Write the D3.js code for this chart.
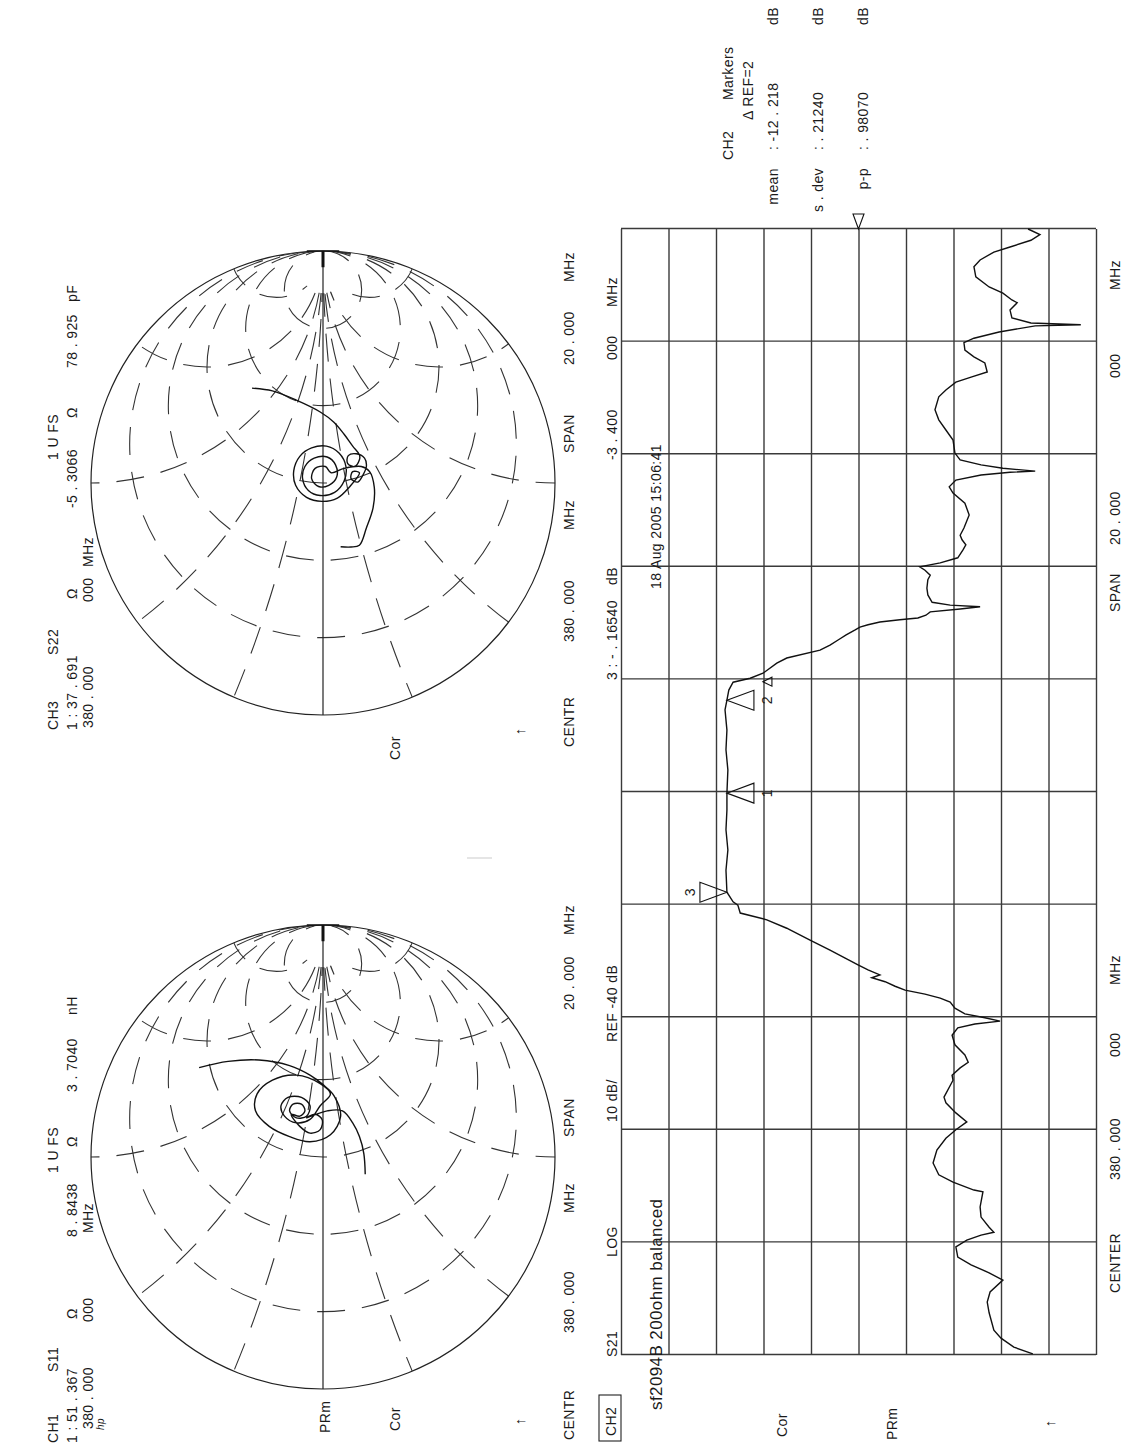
<!DOCTYPE html>
<html>
<head>
<meta charset="utf-8">
<script src="https://cdn.jsdelivr.net/npm/d3@7"></script>
<style>
  body { margin: 0; background: #fff; }
  svg text { font-family: "Liberation Sans", Arial, sans-serif; font-size: 14px; fill: #1a1a1a; letter-spacing: 0.4px; }
  .grid line { stroke: #3a3a3a; stroke-width: 1.4; }
  .trace { fill: none; stroke: #111; stroke-width: 1.4; }
  .smith-outline { fill: none; stroke: #222; stroke-width: 1.2; }
  .smith-dash { fill: none; stroke: #333; stroke-width: 1.1; stroke-dasharray: 28 17; }
  .marker { fill: none; stroke: #111; stroke-width: 1.1; }
</style>
</head>
<body>
<svg id="chart"></svg>
<script>
// ---------- data ----------

// CH2: S21 log magnitude, centre 380 MHz, span 20 MHz
const s21Freq = [370.02, 370.14, 370.30, 370.44, 370.75, 370.94, 371.12, 371.33, 371.46, 371.60,
  371.74, 371.92, 372.04, 372.13, 372.18, 372.27, 372.45, 372.63, 372.90, 372.93,
  373.07, 373.20, 373.41, 373.64, 373.85, 374.00, 374.14, 374.30, 374.48, 374.58,
  374.88, 374.97, 375.10, 375.20, 375.33, 375.51, 375.68, 375.81, 375.88, 375.93,
  375.99, 376.06, 376.16, 376.27, 376.34, 376.41, 376.48, 376.55, 376.63, 376.70,
  376.75, 376.84, 376.93, 377.05, 377.19, 377.37, 377.55, 377.58, 377.73, 377.85,
  377.99, 378.05, 378.22, 378.61, 378.97, 379.33, 379.68, 379.98, 380.39, 380.75,
  381.10, 381.46, 381.63, 381.81, 381.95, 382.02, 382.11, 382.29, 382.38, 382.52,
  382.61, 382.70, 382.79, 382.88, 382.93, 382.97, 383.02, 383.06, 383.09, 383.14,
  383.20, 383.25, 383.29, 383.32, 383.37, 383.50, 383.62, 383.77, 383.85, 383.94,
  384.00, 384.07, 384.16, 384.30, 384.39, 384.48, 384.56, 384.69, 384.92, 385.13,
  385.31, 385.42, 385.54, 385.63, 385.68, 385.70, 385.75, 385.81, 385.90, 386.02,
  386.25, 386.43, 386.61, 386.79, 387.02, 387.14, 387.28, 387.37, 387.46, 387.62,
  387.73, 387.85, 387.98, 388.06, 388.17, 388.28, 388.30, 388.33, 388.42, 388.56,
  388.69, 388.74, 388.86, 388.97, 389.15, 389.33, 389.45, 389.59, 389.68, 389.80,
  389.90, 390.00];
const s21Db = [-76.7, -72.7, -70.0, -68.5, -67.5, -67.1, -67.7, -70.4, -67.5, -63.7,
  -60.9, -60.5, -62.8, -65.8, -68.5, -67.5, -65.8, -65.6, -66.2, -64.3,
  -59.9, -56.9, -55.7, -56.5, -58.4, -60.5, -62.8, -60.5, -58.4, -58.0,
  -59.9, -59.7, -61.4, -63.1, -62.4, -60.3, -59.7, -60.9, -64.5, -69.8,
  -66.6, -62.4, -60.3, -59.3, -57.2, -54.0, -49.8, -47.7, -45.6, -42.8,
  -44.5, -42.0, -39.9, -37.2, -34.0, -29.8, -25.6, -24.9, -20.7, -15.1,
  -14.6, -13.6, -12.3, -12.1, -12.5, -12.1, -12.3, -12.3, -12.5, -12.1,
  -12.3, -11.9, -12.3, -12.7, -13.6, -17.2, -19.9, -22.8, -24.9, -31.9,
  -34.0, -35.7, -37.4, -39.3, -40.3, -42.0, -44.5, -48.7, -52.5, -54.2,
  -55.1, -61.4, -65.6, -59.3, -55.5, -54.6, -54.4, -54.6, -55.1, -54.0,
  -52.9, -57.2, -60.9, -62.0, -62.6, -61.8, -61.4, -62.2, -63.3, -62.4,
  -59.9, -59.1, -60.5, -65.8, -71.9, -77.2, -70.4, -65.8, -61.4, -60.3,
  -59.9, -58.4, -56.9, -56.1, -56.9, -58.4, -60.5, -63.7, -67.1, -66.6,
  -64.3, -62.4, -62.2, -64.3, -69.6, -77.2, -86.8, -76.3, -72.3, -71.9,
  -73.4, -72.3, -70.4, -67.5, -64.7, -64.3, -65.6, -68.5, -71.9, -76.3,
  -78.2, -75.7];

const markerIds = ["1", "2", "3"];
const markerFreq = [379.98, 381.63, 378.22];
const markerDb = [-12.3, -12.3, -12.3];

const freqTicks = [370, 372, 374, 376, 378, 380, 382, 384, 386, 388, 390];
const dbTicks = [-90, -80, -70, -60, -50, -40, -30, -20, -10, 0, 10];
const refLevel = -40;

// CH1: S11 reflection coefficient (real, imaginary)
const s11Re = [0.385, 0.412, 0.418, 0.394, 0.353, 0.312, 0.265, 0.176, 0.096, 0.066,
  0.088, 0.132, 0.199, 0.272, 0.331, 0.353, 0.316, 0.272, 0.221, 0.162,
  0.147, 0.176, 0.221, 0.257, 0.257, 0.221, 0.176, 0.169, 0.199, 0.228,
  0.228, 0.199, 0.176, 0.184, 0.132, 0.103, 0.118, 0.162, 0.184, 0.169,
  0.199, 0.199, 0.147, 0.088, 0.015, -0.074];
const s11Im = [0.534, 0.409, 0.276, 0.144, 0.056, 0.0, -0.047, -0.076, -0.032, 0.056,
  0.144, 0.232, 0.291, 0.284, 0.218, 0.115, 0.012, -0.032, 0.012, 0.056,
  0.115, 0.166, 0.181, 0.151, 0.093, 0.056, 0.071, 0.115, 0.144, 0.129,
  0.093, 0.078, 0.1, 0.137, 0.1, 0.056, 0.012, 0.004, 0.034, 0.071,
  -0.018, -0.084, -0.128, -0.157, -0.176, -0.182];

// CH3: S22 reflection coefficient (real, imaginary)
const s22Re = [0.409, 0.397, 0.357, 0.306, 0.262, 0.21, 0.159, 0.122, 0.1, 0.071,
  0.085, 0.118, 0.126, 0.107, 0.071, 0.034, 0.004, 0.019, 0.049, 0.044,
  -0.018, -0.065, -0.079, -0.062, -0.01, 0.053, 0.115, 0.151, 0.159, 0.129,
  0.071, 0.009, -0.04, -0.054, -0.032, 0.019, 0.071, 0.107, 0.112, 0.078,
  0.026, -0.01, -0.015, 0.019, 0.063, 0.071, 0.044, 0.063, 0.071, 0.049,
  -0.018, -0.106, -0.194, -0.268, -0.276, -0.275];
const s22Im = [0.306, 0.218, 0.115, 0.012, -0.047, -0.091, -0.128, -0.157, -0.157, -0.135,
  -0.106, -0.109, -0.143, -0.179, -0.187, -0.172, -0.15, -0.121, -0.128, -0.157,
  -0.113, -0.062, 0.004, 0.071, 0.118, 0.126, 0.1, 0.049, -0.015, -0.069,
  -0.099, -0.091, -0.05, 0.012, 0.063, 0.088, 0.078, 0.038, -0.018, -0.054,
  -0.059, -0.025, 0.019, 0.049, 0.034, -0.01, -0.035, -0.091, -0.165, -0.201,
  -0.221, -0.216, -0.187, -0.157, -0.121, -0.076];

// Smith chart graticule: constant resistance circles and reactance arcs
const smithR = [0.2, 0.5, 1, 2, 5];
const smithX = [0.2, 0.5, 1, 2, 5, -0.2, -0.5, -1, -2, -5];
const smithStop = 10;   // graticule is left blank inside this resistance circle

// ---------- page ----------
const W = 1139, H = 1447;
const svg = d3.select('#chart').attr('width', W).attr('height', H);

// the whole printout is turned a quarter turn: draw on a landscape page
// (1447 x 1139) and rotate it so the text reads bottom to top
const page = svg.append('g')
    .attr('transform', `translate(0,${H}) rotate(-90)`);

function addLabels(list) {
  page.append('g').selectAll('text')
    .data(list)
    .join('text')
      .attr('x', d => d[1])
      .attr('y', d => d[2])
      .attr('text-anchor', d => d[3] || 'start')
      .style('font-size', d => d[4] || null)
      .text(d => d[0]);
}

// ---------- CH2 rectangular graticule ----------
const grid = { left: 92, right: 1218, top: 621, bottom: 1096 };

const xScale = d3.scaleLinear().domain([370, 390]).range([grid.left, grid.right]);
const yScale = d3.scaleLinear().domain([-90, 10]).range([grid.bottom, grid.top]);

const xAxis = d3.axisBottom(xScale)
    .tickValues(freqTicks)
    .tickSize(-(grid.bottom - grid.top))
    .tickFormat('');
const yAxis = d3.axisLeft(yScale)
    .tickValues(dbTicks)
    .tickSize(-(grid.right - grid.left))
    .tickFormat('');

page.append('g')
    .attr('class', 'grid')
    .attr('transform', `translate(0,${grid.bottom})`)
    .call(xAxis)
    .call(g => g.select('.domain').remove());
page.append('g')
    .attr('class', 'grid')
    .attr('transform', `translate(${grid.left},0)`)
    .call(yAxis)
    .call(g => g.select('.domain').remove());

const s21 = s21Freq.map((f, i) => ({ f: f, db: s21Db[i] }));
page.append('path')
    .datum(s21)
    .attr('class', 'trace')
    .attr('d', d3.line().x(d => xScale(d.f)).y(d => yScale(d.db)));

// reference position marker at the right edge
const ry = yScale(refLevel);
page.append('path')
    .attr('class', 'marker')
    .attr('d', `M${grid.right},${ry} L${grid.right + 15},${ry - 5.5} L${grid.right + 15},${ry + 5.5} Z`);

// trace markers: 1 and 2 hang below the trace, 3 sits above it
const markers = markerIds.map((id, i) => ({ id: id, f: markerFreq[i], db: markerDb[i] }));
markers.forEach(m => {
  const mx = xScale(m.f), my = yScale(m.db);
  const dir = m.id === '3' ? -1 : 1;
  page.append('path')
      .attr('class', 'marker')
      .attr('d', `M${mx},${my} L${mx - 10},${my + dir * 27} L${mx + 10},${my + dir * 27} Z`);
  page.append('text')
      .attr('x', mx - 4)
      .attr('y', m.id === '3' ? my - 32 : my + 45)
      .text(m.id);
});
// delta reference sign next to marker 2
{
  const mx = xScale(markerFreq[1]) + 14, my = yScale(markerDb[1]) + 45;
  page.append('path')
      .attr('class', 'marker')
      .attr('d', `M${mx},${my} L${mx + 9},${my} L${mx + 4.5},${my - 9} Z`);
}

// ---------- Smith charts ----------
const R = 232;
const smithCy = 323;

function drawSmith(cx, re, im, id) {
  const gx = d3.scaleLinear().domain([-1, 1]).range([cx - R, cx + R]);
  const gy = d3.scaleLinear().domain([-1, 1]).range([smithCy + R, smithCy - R]);
  const g = page.append('g');

  // graticule shows inside the unit circle but not in the crowded
  // region next to the open-circuit point
  const mask = g.append('mask').attr('id', id)
      .attr('maskUnits', 'userSpaceOnUse')
      .attr('x', cx - R - 5).attr('y', smithCy - R - 5)
      .attr('width', 2 * R + 10).attr('height', 2 * R + 10);
  mask.append('circle').attr('cx', cx).attr('cy', smithCy).attr('r', R).attr('fill', '#fff');
  mask.append('circle')
      .attr('cx', gx(smithStop / (1 + smithStop))).attr('cy', smithCy)
      .attr('r', R / (1 + smithStop)).attr('fill', '#000');

  const inner = g.append('g').attr('mask', `url(#${id})`);
  inner.selectAll('.rc')
    .data(smithR)
    .join('circle')
      .attr('class', 'smith-dash')
      .attr('cx', r => gx(r / (1 + r)))
      .attr('cy', gy(0))
      .attr('r', r => R / (1 + r));
  inner.selectAll('.xc')
    .data(smithX)
    .join('circle')
      .attr('class', 'smith-dash')
      .attr('cx', gx(1))
      .attr('cy', x => gy(1 / x))
      .attr('r', x => R / Math.abs(x));

  g.append('circle')
      .attr('class', 'smith-outline')
      .attr('cx', cx).attr('cy', smithCy).attr('r', R);
  g.append('line')
      .attr('x1', gx(-1)).attr('x2', gx(1))
      .attr('y1', gy(0)).attr('y2', gy(0))
      .attr('stroke', '#222').attr('stroke-width', 1.2);
  // heavy tick at the open-circuit end
  g.append('line')
      .attr('x1', gx(0.93)).attr('x2', gx(1))
      .attr('y1', gy(0)).attr('y2', gy(0))
      .attr('stroke', '#111').attr('stroke-width', 3);
  g.append('line')
      .attr('x1', gx(1)).attr('x2', gx(1))
      .attr('y1', gy(0.07)).attr('y2', gy(-0.07))
      .attr('stroke', '#111').attr('stroke-width', 1.5);

  const pts = re.map((r, i) => [gx(r), gy(im[i])]);
  g.append('path')
      .attr('class', 'trace')
      .attr('stroke-width', 1.2)
      .attr('d', d3.line().curve(d3.curveCatmullRom.alpha(0.5))(pts));
}

drawSmith(290, s11Re, s11Im, 'maskS11');
drawSmith(964, s22Re, s22Im, 'maskS22');

// faint stray stroke between the two Smith charts
page.append('line')
    .attr('x1', 589).attr('x2', 589).attr('y1', 467).attr('y2', 492)
    .attr('stroke', '#ddd').attr('stroke-width', 1.5);

// ---------- annotation text ----------
addLabels([
  // CH1 header
  ['CH1', 4, 58], ['S11', 75, 58], ['1 U FS', 274, 58],
  ['1 : 51 . 367', 4, 77], ['\u03A9', 128, 77], ['8 . 8438', 210, 77], ['\u03A9', 300, 77],
  ['3 . 7040', 355, 77], ['nH', 432, 77],
  ['380 . 000', 18, 93], ['000', 125, 93], ['MHz', 214, 93],
  // CH3 header
  ['CH3', 717, 58], ['S22', 792, 58], ['1 U FS', 987, 58],
  ['1 : 37 . 691', 717, 77], ['\u03A9', 848, 77], ['-5 . 3066', 939, 77], ['\u03A9', 1029, 77],
  ['78 . 925', 1079, 77], ['pF', 1145, 77],
  ['380 . 000', 719, 93], ['000', 845, 93], ['MHz', 880, 93],
  // Smith chart footers
  ['CENTR', 7, 574], ['380 . 000', 114, 574], ['MHz', 234, 574], ['SPAN', 310, 574],
  ['20 . 000', 437, 574], ['MHz', 512, 574],
  ['CENTR', 700, 574], ['380 . 000', 805, 574], ['MHz', 917, 574], ['SPAN', 994, 574],
  ['20 . 000', 1082, 574], ['MHz', 1165, 574],
  // side notes of the Smith charts
  ['PRm', 14, 330], ['Cor', 16, 400], ['\u2191', 22, 525],
  ['Cor', 687, 400], ['\u2191', 712, 525],
  // CH2 header
  ['S21', 90, 617], ['LOG', 190, 617], ['10 dB/', 325, 617], ['REF -40 dB', 405, 617],
  ['3 : - . 16540', 767, 617], ['dB', 862, 617], ['-3 . 400', 987, 617], ['000', 1087, 617],
  ['MHz', 1140, 617],
  // CH2 footer
  ['CENTER', 154, 1120], ['380 . 000', 267, 1120], ['000', 390, 1120], ['MHz', 462, 1120],
  ['SPAN', 835, 1120], ['20 . 000', 902, 1120], ['000', 1069, 1120], ['MHz', 1157, 1120],
  // CH2 side notes
  ['CH2', 11, 616], ['Cor', 10, 787], ['PRm', 7, 897], ['\u2191', 20, 1055],
  // marker table
  ['CH2', 1287, 733], ['Markers', 1347, 733], ['\u0394 REF=2', 1327, 753],
  ['mean', 1279, 778, 'end'], [': -12 . 218', 1297, 778], ['dB', 1422, 778],
  ['s . dev', 1279, 823, 'end'], [': . 21240', 1297, 823], ['dB', 1422, 823],
  ['p-p', 1279, 868, 'end'], [': . 98070', 1297, 868], ['dB', 1422, 868],
  // title and device label
  ['18 Aug 2005 15:06:41', 858, 661, 'start', '14px'],
  ['sf2094B 200ohm balanced', 37, 662, 'start', '17px']
]);

// box round the active channel label
page.append('rect')
    .attr('x', 6).attr('y', 599).attr('width', 46).attr('height', 22)
    .attr('fill', 'none').attr('stroke', '#222').attr('stroke-width', 1.1);

// small "hp" logo under the CH1 header
page.append('text')
    .attr('x', 17).attr('y', 104)
    .style('font-size', '10px').style('font-style', 'italic')
    .text('hp');
</script>
</body>
</html>
